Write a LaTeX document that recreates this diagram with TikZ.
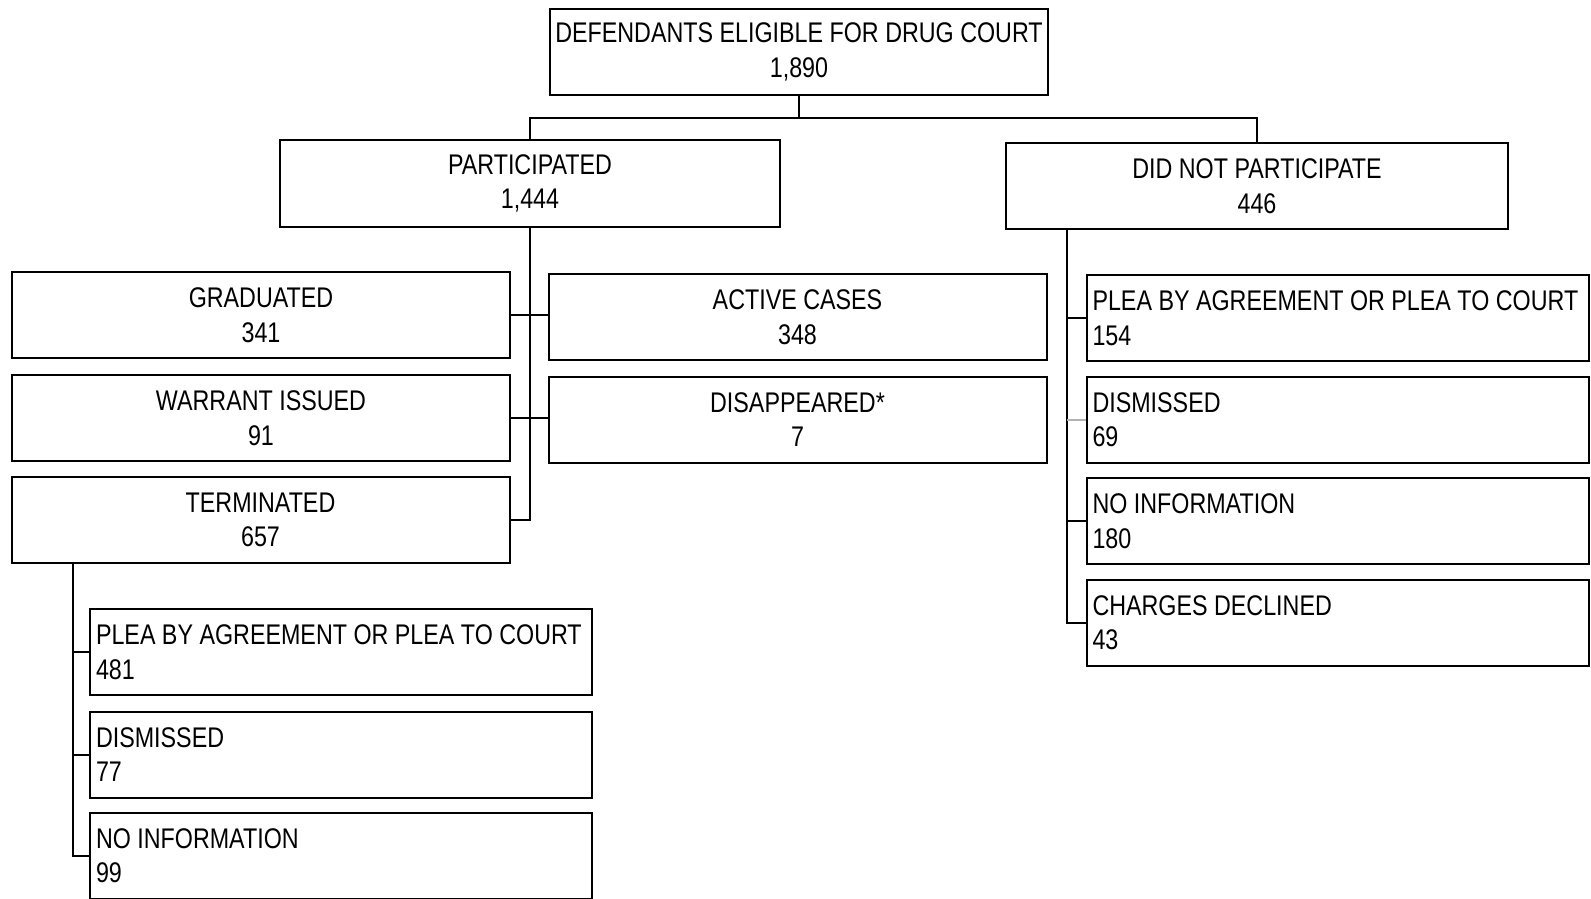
\documentclass[tikz,border=0pt]{standalone}
\usepackage{fontspec}
\setmainfont[FakeStretch=0.82]{Liberation Sans}
\begin{document}
\begin{tikzpicture}[x=0.5pt,y=-0.5pt,
  font=\fontsize{14.2pt}{17.25pt}\selectfont,
  cbox/.style={draw, line width=1pt, minimum width=249pt, minimum height=43pt,
    inner sep=0pt, align=center},
  lbox/.style={draw, line width=1pt, minimum height=43pt, inner xsep=3pt,
    inner ysep=0pt, text width=245pt, align=flush left},
  conn/.style={line width=1pt}]
\useasboundingbox (0,0) rectangle (1591,899);

% root and first level
\node[cbox] (top) at (799,52) {DEFENDANTS ELIGIBLE FOR DRUG COURT\\1,890};
\node[cbox, minimum width=250pt] (part) at (530,183.5) {PARTICIPATED\\1,444};
\node[cbox, minimum width=251pt] (dnp) at (1257,186) {DID NOT PARTICIPATE\\446};

% participants
\node[cbox] (grad) at (261,315) {GRADUATED\\341};
\node[cbox] (active) at (797.5,317) {ACTIVE CASES\\348};
\node[cbox] (warrant) at (261,418) {WARRANT ISSUED\\91};
\node[cbox] (disap) at (797.5,419.5) {DISAPPEARED*\\7};
\node[cbox] (term) at (260.5,520) {TERMINATED\\657};

% outcomes of terminated cases
\node[lbox] (tplea) at (341,652) {PLEA BY AGREEMENT OR PLEA TO COURT\\481};
\node[lbox] (tdis) at (341,754.5) {DISMISSED\\77};
\node[lbox] (tnoinfo) at (341,855.5) {NO INFORMATION\\99};

% outcomes of non-participants
\node[lbox] (nplea) at (1337.5,318) {PLEA BY AGREEMENT OR PLEA TO COURT\\154};
\node[lbox] (ndis) at (1337.5,419.5) {DISMISSED\\69};
\node[lbox] (nnoinfo) at (1337.5,521) {NO INFORMATION\\180};
\node[lbox] (ncharges) at (1337.5,622.5) {CHARGES DECLINED\\43};

% connectors
\coordinate (bus) at (799,118);
\coordinate (tx) at (73,0);
\coordinate (nx) at (1067,0);

\draw[conn] (top.south) -- (bus);
\draw[conn] (part.north) |- (bus) -| (dnp.north);

\draw[conn] (part.south) |- (term.east);
\draw[conn] (grad.east) -- (grad.east -| active.west);
\draw[conn] (warrant.east) -- (warrant.east -| disap.west);

\draw[conn] (term.south -| tx) |- (tnoinfo.west);
\draw[conn] (tplea.west -| tx) -- (tplea.west);
\draw[conn] (tdis.west -| tx) -- (tdis.west);

\draw[conn] (dnp.south -| nx) |- (ncharges.west);
\draw[conn] (nplea.west -| nx) -- (nplea.west);
\draw[conn, draw=gray!60] (ndis.west -| nx) -- (ndis.west);
\draw[conn] (nnoinfo.west -| nx) -- (nnoinfo.west);
\end{tikzpicture}
\end{document}
